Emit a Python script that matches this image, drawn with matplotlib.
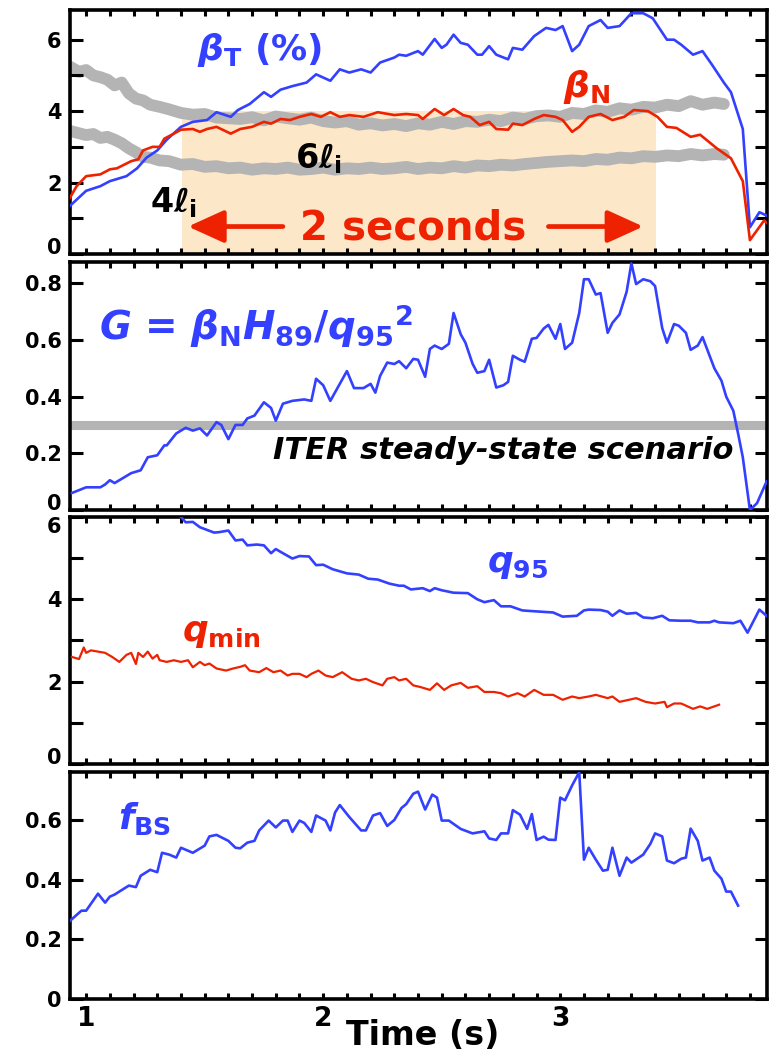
import numpy as np
import matplotlib.pyplot as plt
from matplotlib.ticker import MultipleLocator

plt.rcParams['font.family'] = 'DejaVu Sans'
plt.rcParams['font.weight'] = 'bold'
plt.rcParams['mathtext.fontset'] = 'custom'
plt.rcParams['mathtext.rm'] = 'DejaVu Sans:bold'
plt.rcParams['mathtext.it'] = 'DejaVu Sans:italic:bold'
plt.rcParams['mathtext.bf'] = 'DejaVu Sans:bold'

BLUE = '#3340ff'
RED = '#ee2200'
GRAY = '#b4b4b4'
SHADE = '#fde7c9'

# --- beta_T (%) ---
t_bt = [0.932, 1.0, 1.06, 1.10, 1.17, 1.215, 1.255, 1.30, 1.34, 1.40, 1.45, 1.51, 1.55, 1.61, 1.64,
        1.69, 1.75, 1.78, 1.82, 1.87, 1.93, 1.97, 2.03, 2.07, 2.11, 2.16, 2.20, 2.24, 2.30, 2.32,
        2.35, 2.40, 2.42, 2.47, 2.50, 2.52, 2.55, 2.58, 2.61, 2.65, 2.67, 2.70, 2.73, 2.78, 2.80,
        2.84, 2.89, 2.94, 2.98, 3.01, 3.05, 3.08, 3.12, 3.17, 3.20, 3.25, 3.30, 3.35, 3.39, 3.45,
        3.48, 3.51, 3.56, 3.60, 3.64, 3.69, 3.72, 3.77, 3.80, 3.84, 3.87]
beta_t = [1.35, 1.77, 1.9, 2.04, 2.18, 2.4, 2.7, 2.9, 3.2, 3.56, 3.7, 3.75, 3.97, 3.84, 4.03,
          4.2, 4.53, 4.4, 4.6, 4.7, 4.8, 5.03, 4.85, 5.17, 5.08, 5.17, 5.08, 5.36, 5.5, 5.58,
          5.55, 5.68, 5.58, 6.02, 5.77, 5.86, 6.14, 5.91, 5.86, 5.58, 5.58, 5.82, 5.58, 5.45, 5.77,
          5.72, 6.1, 6.33, 6.27, 6.38, 5.68, 5.86, 6.38, 6.55, 6.33, 6.38, 6.74, 6.74, 6.6, 6.0,
          6.0, 5.86, 5.58, 5.68, 5.3, 4.8, 4.53, 3.5, 0.75, 1.17, 1.08]

# --- beta_N ---
t_bn = [0.932, 0.96, 1.0, 1.06, 1.10, 1.13, 1.19, 1.22, 1.24, 1.28, 1.31, 1.33, 1.37, 1.40, 1.45,
        1.48, 1.51, 1.55, 1.61, 1.65, 1.70, 1.75, 1.78, 1.82, 1.86, 1.90, 1.95, 1.99, 2.03, 2.07,
        2.11, 2.17, 2.23, 2.30, 2.35, 2.40, 2.42, 2.47, 2.51, 2.55, 2.59, 2.62, 2.66, 2.70, 2.73,
        2.78, 2.80, 2.84, 2.89, 2.93, 2.98, 3.01, 3.05, 3.08, 3.12, 3.17, 3.22, 3.27, 3.31, 3.37,
        3.41, 3.45, 3.49, 3.55, 3.59, 3.66, 3.72, 3.77, 3.80, 3.86, 3.87]
beta_n = [1.58, 1.9, 2.18, 2.23, 2.37, 2.4, 2.6, 2.65, 2.9, 3.0, 3.0, 3.23, 3.37, 3.48, 3.5,
          3.42, 3.5, 3.56, 3.37, 3.5, 3.56, 3.7, 3.65, 3.78, 3.75, 3.84, 3.92, 3.84, 3.97, 3.84,
          3.89, 3.84, 3.97, 3.89, 3.92, 3.89, 3.78, 4.06, 3.89, 4.06, 3.89, 3.84, 3.61, 3.7, 3.5,
          3.48, 3.65, 3.61, 3.78, 3.89, 3.84, 3.75, 3.42, 3.56, 3.84, 3.92, 3.75, 3.84, 4.03, 4.0,
          3.84, 3.56, 3.53, 3.28, 3.34, 2.96, 2.68, 2.04, 0.39, 0.94, 0.88]

# --- 6 l_i and 4 l_i ---
t_li = [0.93, 0.97, 1.0, 1.03, 1.06, 1.09, 1.12, 1.15, 1.18, 1.21, 1.24, 1.27, 1.31, 1.35, 1.40,
        1.45, 1.50, 1.55, 1.60, 1.65, 1.70, 1.75, 1.80, 1.85, 1.90, 1.95, 2.00, 2.05, 2.10, 2.15,
        2.20, 2.25, 2.30, 2.35, 2.40, 2.45, 2.50, 2.55, 2.60, 2.65, 2.70, 2.75, 2.80, 2.85, 2.90,
        2.95, 3.00, 3.05, 3.10, 3.15, 3.20, 3.25, 3.30, 3.35, 3.40, 3.45, 3.50, 3.55, 3.60, 3.65,
        3.69]
six_li = [5.25, 5.1, 5.15, 5.0, 4.95, 4.88, 4.72, 4.8, 4.5, 4.35, 4.3, 4.18, 4.12, 4.05, 3.95,
          3.9, 3.92, 3.82, 3.8, 3.78, 3.83, 3.74, 3.85, 3.8, 3.76, 3.82, 3.72, 3.68, 3.72, 3.62,
          3.66, 3.6, 3.64, 3.58, 3.66, 3.62, 3.7, 3.64, 3.72, 3.7, 3.76, 3.72, 3.82, 3.78, 3.86,
          3.88, 3.84, 3.95, 3.92, 4.02, 3.98, 4.08, 4.04, 4.12, 4.1, 4.18, 4.14, 4.28, 4.18, 4.24,
          4.2]
four_li = [3.45, 3.38, 3.33, 3.36, 3.25, 3.28, 3.2, 3.1, 2.96, 2.85, 2.72, 2.7, 2.62, 2.6, 2.5,
           2.52, 2.44, 2.46, 2.4, 2.42, 2.36, 2.4, 2.38, 2.42, 2.36, 2.38, 2.42, 2.36, 2.4, 2.38,
           2.42, 2.38, 2.4, 2.44, 2.38, 2.42, 2.4, 2.46, 2.42, 2.48, 2.46, 2.5, 2.48, 2.52, 2.55,
           2.58, 2.6, 2.62, 2.6, 2.66, 2.64, 2.7, 2.68, 2.74, 2.72, 2.76, 2.74, 2.8, 2.76, 2.8,
           2.78]

# --- G = beta_N H89 / q95^2 ---
t_g = [0.94, 1.0, 1.06, 1.08, 1.10, 1.12, 1.16, 1.19, 1.23, 1.26, 1.30, 1.33, 1.34, 1.38, 1.42,
       1.45, 1.48, 1.51, 1.55, 1.57, 1.60, 1.63, 1.66, 1.68, 1.71, 1.75, 1.78, 1.80, 1.83, 1.87,
       1.92, 1.95, 1.97, 2.00, 2.03, 2.06, 2.10, 2.13, 2.17, 2.20, 2.22, 2.24, 2.27, 2.30, 2.32,
       2.35, 2.38, 2.40, 2.43, 2.45, 2.47, 2.50, 2.53, 2.55, 2.58, 2.60, 2.63, 2.65, 2.68, 2.70,
       2.73, 2.76, 2.78, 2.80, 2.83, 2.85, 2.88, 2.90, 2.93, 2.95, 2.98, 3.00, 3.02, 3.05, 3.08,
       3.10, 3.12, 3.15, 3.17, 3.20, 3.22, 3.25, 3.28, 3.30, 3.32, 3.35, 3.38, 3.40, 3.43, 3.45,
       3.48, 3.50, 3.53, 3.55, 3.58, 3.60, 3.65, 3.68, 3.70, 3.73, 3.75, 3.77, 3.80, 3.83, 3.87]
g_val = [0.06, 0.08, 0.08, 0.09, 0.105, 0.095, 0.115, 0.13, 0.14, 0.186, 0.193, 0.228, 0.228, 0.27, 0.29,
         0.28, 0.288, 0.263, 0.31, 0.3, 0.25, 0.3, 0.3, 0.323, 0.333, 0.38, 0.36, 0.315, 0.375, 0.385,
         0.39, 0.385, 0.463, 0.44, 0.385, 0.43, 0.49, 0.43, 0.43, 0.445, 0.414, 0.473, 0.52, 0.515, 0.525,
         0.5, 0.533, 0.53, 0.47, 0.568, 0.58, 0.568, 0.586, 0.695, 0.62, 0.59, 0.516, 0.484, 0.49, 0.53,
         0.432, 0.44, 0.452, 0.544, 0.53, 0.523, 0.604, 0.607, 0.64, 0.653, 0.604, 0.656, 0.568, 0.59, 0.695,
         0.814, 0.814, 0.76, 0.765, 0.625, 0.66, 0.69, 0.77, 0.87, 0.797, 0.814, 0.807, 0.79, 0.642, 0.59,
         0.656, 0.65, 0.625, 0.565, 0.58, 0.61, 0.5, 0.456, 0.40, 0.35, 0.27, 0.186, 0.0, 0.024, 0.1]
iter_g = 0.3

# --- q95 ---
t_q95 = [1.40, 1.42, 1.45, 1.48, 1.54, 1.56, 1.60, 1.63, 1.66, 1.68, 1.72, 1.75, 1.78, 1.80, 1.83,
         1.87, 1.90, 1.94, 1.97, 2.00, 2.04, 2.10, 2.15, 2.19, 2.23, 2.28, 2.32, 2.34, 2.37, 2.42,
         2.45, 2.47, 2.50, 2.55, 2.61, 2.65, 2.68, 2.72, 2.75, 2.79, 2.84, 2.89, 2.97, 3.01, 3.07,
         3.10, 3.12, 3.17, 3.20, 3.22, 3.25, 3.28, 3.32, 3.35, 3.39, 3.43, 3.46, 3.51, 3.55, 3.58,
         3.63, 3.65, 3.67, 3.73, 3.76, 3.79, 3.84, 3.87]
q95 = [6.0, 5.87, 5.88, 5.75, 5.62, 5.63, 5.67, 5.43, 5.45, 5.31, 5.33, 5.31, 5.12, 5.22, 5.12,
       4.99, 5.05, 5.04, 4.83, 4.84, 4.73, 4.63, 4.6, 4.5, 4.48, 4.38, 4.33, 4.33, 4.24, 4.27,
       4.2, 4.27, 4.22, 4.16, 4.15, 4.0, 3.93, 3.98, 3.83, 3.83, 3.73, 3.71, 3.68, 3.58, 3.6,
       3.73, 3.75, 3.74, 3.7, 3.6, 3.73, 3.65, 3.67, 3.56, 3.54, 3.6, 3.49, 3.48, 3.48, 3.44,
       3.44, 3.48, 3.44, 3.42, 3.48, 3.19, 3.75, 3.6]

# --- qmin ---
t_qmin = [0.94, 0.97, 0.99, 1.0, 1.02, 1.05, 1.08, 1.11, 1.14, 1.17, 1.19, 1.21, 1.22, 1.24, 1.26,
          1.28, 1.30, 1.31, 1.34, 1.37, 1.40, 1.43, 1.45, 1.48, 1.50, 1.52, 1.55, 1.59, 1.62, 1.65,
          1.67, 1.69, 1.73, 1.76, 1.79, 1.82, 1.85, 1.87, 1.90, 1.93, 1.95, 1.98, 2.01, 2.04, 2.08,
          2.12, 2.15, 2.18, 2.21, 2.25, 2.27, 2.30, 2.32, 2.35, 2.38, 2.41, 2.45, 2.48, 2.51, 2.54,
          2.58, 2.61, 2.65, 2.68, 2.72, 2.75, 2.78, 2.82, 2.85, 2.89, 2.93, 2.97, 3.01, 3.05, 3.08,
          3.12, 3.15, 3.20, 3.22, 3.25, 3.29, 3.32, 3.36, 3.40, 3.44, 3.45, 3.48, 3.51, 3.56, 3.59,
          3.62, 3.65, 3.67]
qmin = [2.6, 2.55, 2.83, 2.7, 2.76, 2.73, 2.7, 2.6, 2.48, 2.65, 2.7, 2.43, 2.7, 2.6, 2.73,
        2.56, 2.65, 2.52, 2.48, 2.52, 2.48, 2.52, 2.35, 2.48, 2.4, 2.44, 2.32, 2.27, 2.32, 2.36,
        2.4, 2.27, 2.23, 2.33, 2.23, 2.27, 2.15, 2.19, 2.19, 2.11, 2.19, 2.27, 2.15, 2.11, 2.23,
        2.07, 2.03, 2.07, 1.99, 1.91, 2.07, 2.11, 2.03, 2.07, 1.91, 1.87, 1.8, 1.96, 1.8, 1.91,
        1.97, 1.85, 1.89, 1.75, 1.75, 1.72, 1.64, 1.72, 1.64, 1.8, 1.68, 1.68, 1.56, 1.64, 1.6,
        1.64, 1.68, 1.6, 1.64, 1.51, 1.56, 1.6, 1.51, 1.47, 1.51, 1.38, 1.47, 1.47, 1.34, 1.4,
        1.34, 1.4, 1.44]

# --- f_BS ---
t_fbs = [0.932, 0.98, 1.0, 1.05, 1.08, 1.10, 1.12, 1.18, 1.21, 1.23, 1.27, 1.30, 1.32, 1.35, 1.38,
         1.40, 1.45, 1.50, 1.52, 1.55, 1.60, 1.63, 1.65, 1.68, 1.71, 1.73, 1.77, 1.80, 1.83, 1.85,
         1.87, 1.90, 1.92, 1.95, 1.97, 2.01, 2.03, 2.05, 2.07, 2.11, 2.16, 2.18, 2.21, 2.24, 2.27,
         2.30, 2.33, 2.35, 2.38, 2.40, 2.43, 2.46, 2.48, 2.50, 2.53, 2.58, 2.63, 2.68, 2.70, 2.73,
         2.75, 2.78, 2.80, 2.83, 2.86, 2.88, 2.90, 2.93, 2.95, 2.98, 3.00, 3.02, 3.05, 3.08, 3.10,
         3.12, 3.15, 3.18, 3.20, 3.22, 3.25, 3.28, 3.30, 3.35, 3.38, 3.40, 3.43, 3.45, 3.48, 3.51,
         3.53, 3.55, 3.58, 3.60, 3.63, 3.65, 3.68, 3.70, 3.72, 3.75]
fbs = [0.262, 0.296, 0.296, 0.353, 0.323, 0.343, 0.35, 0.38, 0.375, 0.413, 0.433, 0.425, 0.49, 0.484, 0.474,
       0.507, 0.49, 0.514, 0.545, 0.55, 0.53, 0.507, 0.505, 0.524, 0.53, 0.565, 0.598, 0.575, 0.598, 0.598,
       0.56, 0.598, 0.59, 0.56, 0.615, 0.598, 0.565, 0.625, 0.65, 0.61, 0.565, 0.565, 0.615, 0.623, 0.58,
       0.6, 0.64, 0.653, 0.688, 0.695, 0.635, 0.685, 0.675, 0.598, 0.598, 0.57, 0.555, 0.562, 0.538, 0.533,
       0.555, 0.555, 0.633, 0.618, 0.57, 0.62, 0.533, 0.544, 0.534, 0.533, 0.675, 0.666, 0.716, 0.76, 0.467,
       0.507, 0.467, 0.43, 0.433, 0.507, 0.413, 0.474, 0.457, 0.484, 0.52, 0.555, 0.545, 0.464, 0.455, 0.47,
       0.474, 0.571, 0.53, 0.464, 0.474, 0.43, 0.403, 0.36, 0.36, 0.313]

# y tick values and labels for each panel
yt_beta = [0, 2, 4, 6]
yt_g = [0, 0.2, 0.4, 0.6, 0.8]
yt_q = [0, 2, 4, 6]
yt_fbs = [0, 0.2, 0.4, 0.6]
yl_int = ['0', '2', '4', '6']
yl_g = ['0', '0.2', '0.4', '0.6', '0.8']
yl_fbs = ['0', '0.2', '0.4', '0.6']

fig = plt.figure(figsize=(7.72, 10.55), dpi=100)
L, W = 0.0907, 0.9028
boxes = [(0.7592, 0.2313), (0.5166, 0.2351), (0.2758, 0.2342), (0.0531, 0.2152)]
axes = [fig.add_axes([L, b, W, h]) for b, h in boxes]


def style(ax, ymax, yticks, ylabels, yminor):
    ax.set_xlim(0.932, 3.872)
    ax.set_ylim(0, ymax)
    ax.xaxis.set_major_locator(MultipleLocator(1))
    ax.xaxis.set_minor_locator(MultipleLocator(0.1))
    ax.set_yticks(yticks, ylabels)
    if yminor:
        ax.yaxis.set_minor_locator(MultipleLocator(yminor))
    ax.tick_params(which='both', direction='in', top=True, right=True, width=2.2)
    ax.tick_params(axis='y', which='both', length=9)
    ax.tick_params(axis='x', which='both', length=4)
    ax.tick_params(axis='y', labelsize=15, pad=6)
    ax.tick_params(axis='x', labelsize=19, pad=5)
    for s in ax.spines.values():
        s.set_linewidth(2.6)


# panel 1: beta
ax = axes[0]
style(ax, 6.83, yt_beta, yl_int, 1)
ax.fill_between([1.405, 3.405], 0, 4.0, color=SHADE, lw=0, zorder=0)
ax.plot(t_li, six_li, color=GRAY, lw=8.5, solid_capstyle='round', solid_joinstyle='round', zorder=1)
ax.plot(t_li, four_li, color=GRAY, lw=8.5, solid_capstyle='round', solid_joinstyle='round', zorder=1)
ax.plot(t_bt, beta_t, color=BLUE, lw=1.9, zorder=3)
ax.plot(t_bn, beta_n, color=RED, lw=1.9, zorder=3)
ax.text(1.73, 5.7, r'$\beta_{\mathrm{T}}$ (%)', color=BLUE, fontsize=26, ha='center', va='center')
ax.text(3.11, 4.67, r'$\beta_{\mathrm{N}}$', color=RED, fontsize=26, ha='center', va='center')
ax.text(1.98, 2.68, r'6$\ell_{\mathrm{i}}$', color='black', fontsize=24, ha='center', va='center')
ax.text(1.37, 1.44, r'4$\ell_{\mathrm{i}}$', color='black', fontsize=24, ha='center', va='center')
ax.text(2.38, 0.72, '2 seconds', color=RED, fontsize=29, ha='center', va='center')
arw = dict(arrowstyle='-|>,head_length=1.1,head_width=0.5', color=RED, lw=3.4, mutation_scale=20,
           shrinkA=0, shrinkB=0)
ax.annotate('', xy=(1.43, 0.77), xytext=(1.83, 0.77), arrowprops=arw)
ax.annotate('', xy=(3.35, 0.77), xytext=(2.95, 0.77), arrowprops=arw)

# panel 2: G
ax = axes[1]
style(ax, 0.875, yt_g, yl_g, None)
ax.axhline(iter_g, color=GRAY, lw=6.5, zorder=1)
ax.plot(t_g, g_val, color=BLUE, lw=1.9, zorder=3)
ax.text(1.055, 0.65, r'$\mathit{G}$ = $\beta_{\mathrm{N}}\mathit{H}_{\mathrm{89}}/\mathit{q}_{\mathrm{95}}{}^{\mathrm{2}}$',
        color=BLUE, fontsize=28, ha='left', va='center')
ax.text(3.73, 0.21, 'ITER steady-state scenario', color='black', fontsize=22, style='italic',
        ha='right', va='center')

# panel 3: q
ax = axes[2]
style(ax, 6.0, yt_q, yl_int, 1)
ax.plot(t_q95, q95, color=BLUE, lw=1.9, zorder=3)
ax.plot(t_qmin, qmin, color=RED, lw=1.6, zorder=3)
ax.text(2.69, 4.85, r'$\mathit{q}_{\mathrm{95}}$', color=BLUE, fontsize=26, ha='left', va='center')
ax.text(1.405, 3.18, r'$\mathit{q}_{\mathrm{min}}$', color=RED, fontsize=26, ha='left', va='center')

# panel 4: f_BS
ax = axes[3]
style(ax, 0.761, yt_fbs, yl_fbs, None)
ax.plot(t_fbs, fbs, color=BLUE, lw=1.9, zorder=3)
ax.text(1.135, 0.605, r'$\mathit{f}_{\mathrm{BS}}$', color=BLUE, fontsize=26, ha='left', va='center')

# keep edge tick labels inside their own panel
for a in axes[:3]:
    a.tick_params(axis='x', labelbottom=False)
    a.yaxis.get_major_ticks()[0].label1.set_va('baseline')
axes[2].yaxis.get_major_ticks()[-1].label1.set_va('top')

fig.text(0.547, 0.0185, 'Time (s)', fontsize=24, fontweight='bold', ha='center', va='center')

fig.savefig('out.png', dpi=100)
